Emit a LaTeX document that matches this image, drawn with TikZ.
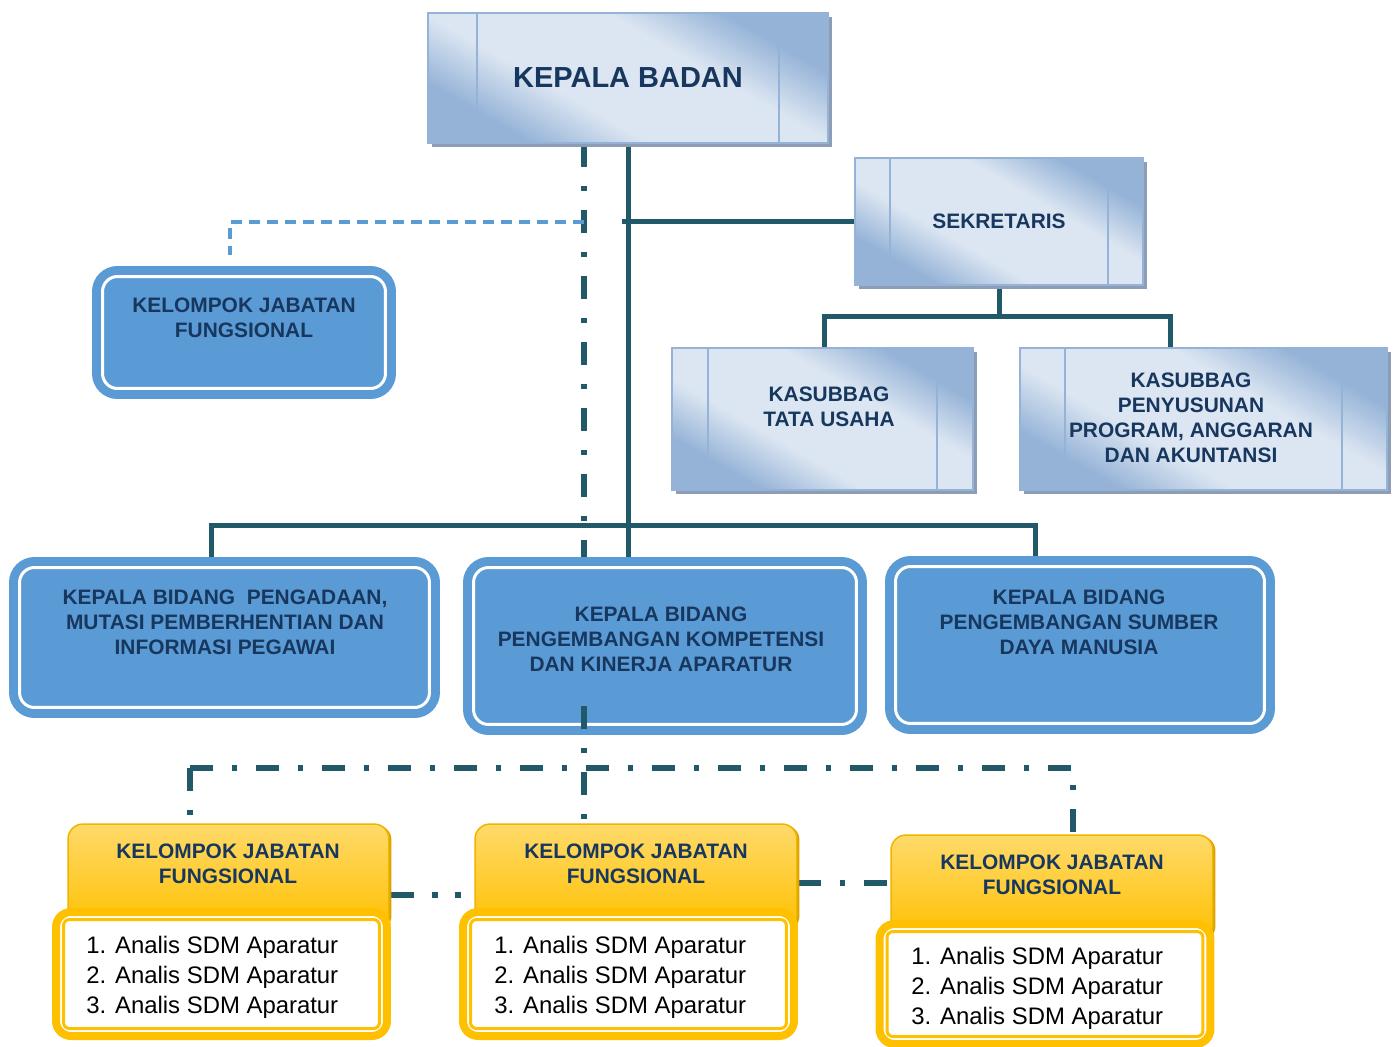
\documentclass[tikz,border=0pt]{standalone}
\usepackage{fontspec}
\setmainfont{Liberation Sans}
\usetikzlibrary{shadows, calc, positioning, backgrounds}
\definecolor{garis}{HTML}{215968}
\definecolor{teks}{HTML}{17375E}
\definecolor{biru}{HTML}{5B9BD5}
\definecolor{birumuda}{HTML}{DCE6F2}
\definecolor{birutua}{HTML}{95B3D7}
\definecolor{bayang}{HTML}{8C9DB5}
\definecolor{kuningmuda}{HTML}{FFDA6A}
\definecolor{kuning}{HTML}{FFC000}
\definecolor{kuningtua}{HTML}{D9A200}
\pgfdeclarehorizontalshading{kaca}{100bp}{color(0bp)=(birutua); color(27bp)=(birutua); color(40bp)=(birumuda); color(60bp)=(birumuda); color(73bp)=(birutua); color(100bp)=(birutua)}

\begin{document}
\begin{tikzpicture}[x=0.02cm, y=-0.02cm,
    kaca/.style={draw=birutua, line width=0.03cm, shade, shading=kaca, shading angle=60, text=teks, align=center,
        font=\bfseries\fontsize{11.9pt}{14.2pt}\selectfont,
        drop shadow={shadow xshift=0.08cm, shadow yshift=-0.08cm, fill=bayang, opacity=1},
        path picture={\draw[birutua, line width=0.05cm]
            ([xshift=#1]path picture bounding box.north west) -- ([xshift=#1]path picture bounding box.south west)
            ([xshift=-#1]path picture bounding box.north east) -- ([xshift=-#1]path picture bounding box.south east);}},
    bulat/.style={fill=biru, draw=biru, line width=0.18cm, double=white, double distance=0.06cm, rounded corners=0.3cm},
    judul/.style={text=teks, align=center, font=\bfseries\fontsize{11.9pt}{14.2pt}\selectfont},
    kepalakuning/.style={draw=kuningtua!40!kuning, line width=0.03cm, top color=kuningmuda, bottom color=kuning, rounded corners=0.3cm,
        drop shadow={shadow xshift=0.05cm, shadow yshift=-0.02cm, fill=kuningtua, opacity=1}},
    daftar/.style={fill=white, draw=kuning, line width=0.16cm, rounded corners=0.3cm,
        drop shadow={shadow xshift=0.04cm, shadow yshift=-0.04cm, fill=kuningtua, opacity=1},
        path picture={\draw[kuning, line width=0.06cm, rounded corners=0.12cm]
            ([shift={(0.15cm,-0.15cm)}]path picture bounding box.north west) rectangle ([shift={(-0.15cm,0.15cm)}]path picture bounding box.south east);}},
    isi/.style={anchor=west, inner sep=0pt, align=left, font=\fontsize{13.6pt}{17pt}\selectfont},
    tegas/.style={garis, line width=0.1cm},
    titik/.style={garis, line width=0.12cm, dash pattern=on 0.46cm off 0.38cm on 0.1cm off 0.38cm},
    titikdua/.style={garis, line width=0.12cm, dash pattern=on 0.48cm off 0.36cm on 0.12cm off 0.34cm on 0.12cm off 0.34cm},
    putus/.style={biru, line width=0.08cm, dash pattern=on 0.22cm off 0.14cm}]
    \useasboundingbox (0,0) rectangle (1394,1046);

    \node[kaca=0.98cm, minimum width=8cm, minimum height=2.6cm, font=\bfseries\fontsize{16.5pt}{19pt}\selectfont] (kb) at (628,78) {KEPALA BADAN};
    \node[kaca=0.7cm, minimum width=5.76cm, minimum height=2.54cm] (sek) at (999,221.5) {SEKRETARIS};
    \node[kaca=0.72cm, minimum width=6.02cm, minimum height=2.84cm] (tu) at (822.5,419) {};
    \node[judul] (tut) at (829,406.5) {KASUBBAG\\TATA USAHA};
    \node[kaca=0.9cm, minimum width=7.34cm, minimum height=2.84cm] (pp) at (1203.5,419) {};
    \node[judul] (ppt) at (1191,418) {KASUBBAG\\PENYUSUNAN\\PROGRAM, ANGGARAN\\DAN AKUNTANSI};

    \node[bulat, minimum width=5.66cm, minimum height=2.24cm] (jf) at (244,332.5) {};
    \node[judul] (jft) at (244,318) {KELOMPOK JABATAN\\FUNGSIONAL};
    \node[bulat, minimum width=8.2cm, minimum height=2.8cm] (b1) at (224.5,637.5) {};
    \node[judul] (b1t) at (225,622) {KEPALA BIDANG~~PENGADAAN,\\MUTASI PEMBERHENTIAN DAN\\INFORMASI PEGAWAI};
    \node[bulat, minimum width=7.66cm, minimum height=3.14cm] (b2) at (665,646) {};
    \node[judul] (b2t) at (661,639) {KEPALA BIDANG\\PENGEMBANGAN KOMPETENSI\\DAN KINERJA APARATUR};
    \node[bulat, minimum width=7.38cm, minimum height=3.14cm] (b3) at (1080,645) {};
    \node[judul] (b3t) at (1079,622) {KEPALA BIDANG\\PENGEMBANGAN SUMBER\\DAYA MANUSIA};

    \node[kepalakuning, minimum width=6.42cm, minimum height=2.12cm] (y1) at (228.5,877) {};
    \node[daftar, minimum width=6.62cm, minimum height=2.48cm] (d1) at (221.5,974) {};
    \node[judul] (y1t) at (228,863.5) {KELOMPOK JABATAN\\FUNGSIONAL};
    \node[isi] (d1t) at (86,977) {1. Analis SDM Aparatur\\2. Analis SDM Aparatur\\3. Analis SDM Aparatur};

    \node[kepalakuning, minimum width=6.44cm, minimum height=2.12cm] (y2) at (636,877) {};
    \node[daftar, minimum width=6.62cm, minimum height=2.48cm] (d2) at (628.5,974) {};
    \node[judul] (y2t) at (636,863.5) {KELOMPOK JABATAN\\FUNGSIONAL};
    \node[isi] (d2t) at (494,977) {1. Analis SDM Aparatur\\2. Analis SDM Aparatur\\3. Analis SDM Aparatur};

    \node[kepalakuning, minimum width=6.44cm, minimum height=2.1cm] (y3) at (1052,887.5) {};
    \node[daftar, minimum width=6.62cm, minimum height=2.4cm] (d3) at (1045,984) {};
    \node[judul] (y3t) at (1052,874.5) {KELOMPOK JABATAN\\FUNGSIONAL};
    \node[isi] (d3t) at (911,988) {1. Analis SDM Aparatur\\2. Analis SDM Aparatur\\3. Analis SDM Aparatur};

    \coordinate (fx) at (584,0);
    \coordinate (sj) at (622,0);
    \coordinate (jfk) at (230,222);
    \coordinate (jfe) at (230,255);
    \coordinate (b1d) at (211,525);
    \coordinate (b3d) at (1035,525);
    \coordinate (s1) at (824,316);
    \coordinate (s2) at (1170,316);
    \coordinate (h1) at (190,768);
    \coordinate (h3) at (1073,768);
    \coordinate (k12) at (0,895);
    \coordinate (k23) at (0,883);
    \coordinate (fb) at (584,706);

    \begin{scope}[on background layer]
        \draw[titik] (kb.south -| fx) -- (b2.north -| fx);
        \draw[putus] (fx |- jfk) -- (jfk) -- (jfe);
        \draw[tegas] (kb.south) -- (kb.south |- b2.north);
        \draw[tegas] (sj |- sek.west) -- (sek.west);
        \draw[tegas] (b1d |- b1.north) -- (b1d) -- (b3d) -- (b3d |- b3.north);
        \draw[tegas] (sek.south) -- (sek.south |- s1);
        \draw[tegas] (s1 |- tu.north) -- (s1) -- (s2) -- (s2 |- pp.north);
        \draw[titik] (h1) -- (h3);
        \draw[titik] (h1) -- (h1 |- y1.north);
        \draw[titik, dash phase=0.5cm] (h3) -- (h3 |- y3.north);
        \draw[titikdua] (y1.east |- k12) -- (y2.west |- k12);
        \draw[titik] (y2.east |- k23) -- (y3.west |- k23);
    \end{scope}
    \draw[titik] (fb) -- (fb |- y2.north);
\end{tikzpicture}
\end{document}
